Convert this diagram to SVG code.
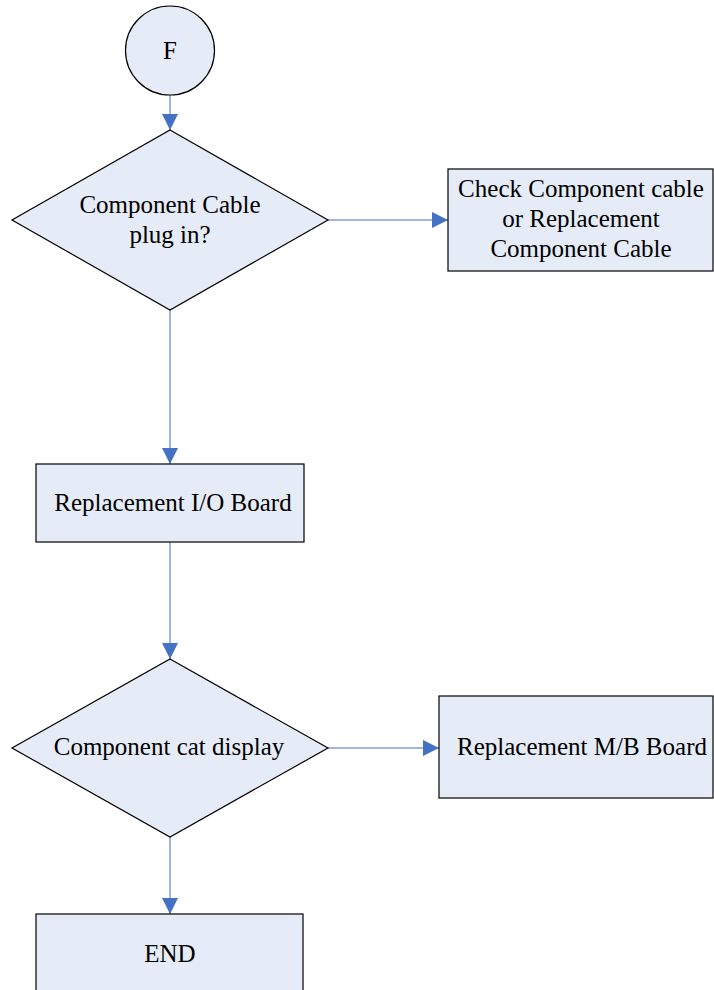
<svg xmlns="http://www.w3.org/2000/svg" width="714" height="990" viewBox="0 0 714 990">
<defs>
<style>
.shape{fill:#E6ECF7;stroke:#000;stroke-width:1.2}
.shadow{fill:none;stroke:#808080;stroke-width:1.5}
.conn{fill:none;stroke:#7E9ED6;stroke-width:1.5}
.lbl{font-family:"Liberation Serif","Times New Roman",serif;font-size:25px;fill:#000;text-anchor:middle}
</style>
<marker id="arr" viewBox="0 0 16 16" refX="16" refY="8" markerWidth="16" markerHeight="16" markerUnits="userSpaceOnUse" orient="auto">
<path d="M0,0 L16,8 L0,16 Z" fill="#4472C4"/>
</marker>
</defs>
<rect width="714" height="990" fill="#fff"/>
<g id="connectors">
<line class="conn" x1="170" y1="95" x2="170" y2="130" marker-end="url(#arr)"/>
<line class="conn" x1="328" y1="220" x2="448" y2="220" marker-end="url(#arr)"/>
<line class="conn" x1="170" y1="310" x2="170" y2="464" marker-end="url(#arr)"/>
<line class="conn" x1="170" y1="542" x2="170" y2="659" marker-end="url(#arr)"/>
<line class="conn" x1="328" y1="748" x2="439" y2="748" marker-end="url(#arr)"/>
<line class="conn" x1="170" y1="837" x2="170" y2="914" marker-end="url(#arr)"/>
</g>
<g id="nodeF">
<circle class="shape" cx="170" cy="50.5" r="44.5"/>
<text class="lbl" x="170" y="59">F</text>
</g>
<g id="decision1">
<polygon class="shape" points="170,130 328,220 170,310 12,220"/>
<text class="lbl" x="170" y="213">Component Cable</text>
<text class="lbl" x="170" y="243">plug in?</text>
</g>
<g id="checkCable">
<rect class="shape" x="448" y="169" width="265" height="102"/>
<text class="lbl" x="581" y="197">Check Component cable</text>
<text class="lbl" x="581" y="227">or Replacement</text>
<text class="lbl" x="581" y="257">Component Cable</text>
</g>
<g id="ioBoard">
<rect class="shape" x="36" y="464" width="268" height="78"/>
<text class="lbl" x="173" y="511">Replacement I/O Board</text>
</g>
<g id="decision2">
<polygon class="shape" points="170,659 328,748 170,837 12,748"/>
<text class="lbl" x="169" y="755">Component cat display</text>
</g>
<g id="mbBoard">
<rect class="shape" x="439" y="696" width="274" height="102"/>
<text class="lbl" x="582" y="755">Replacement M/B Board</text>
</g>
<g id="end">
<rect class="shape" x="36" y="914" width="267" height="90"/>
<text class="lbl" x="170" y="962">END</text>
</g>
</svg>
